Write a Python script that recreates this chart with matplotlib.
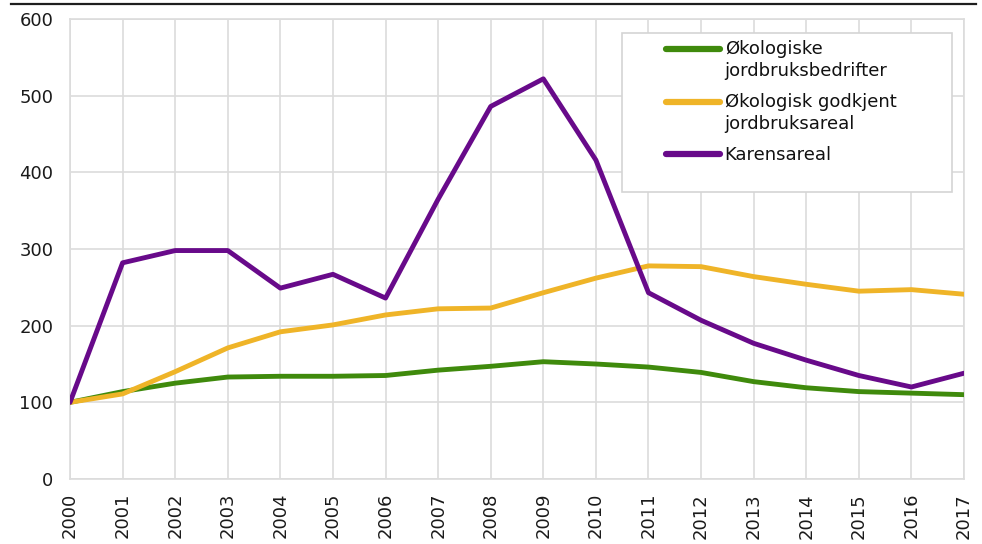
import matplotlib
matplotlib.use('Agg')
import matplotlib.pyplot as plt
from matplotlib.lines import Line2D
from matplotlib.patches import Rectangle
from matplotlib.legend_handler import HandlerLine2D

# index, 2000 = 100
years = [2000, 2001, 2002, 2003, 2004, 2005, 2006, 2007, 2008,
         2009, 2010, 2011, 2012, 2013, 2014, 2015, 2016, 2017]
bedrifter = [100, 114, 125, 133, 134, 134, 135, 142, 147,
             153, 150, 146, 139, 127, 119, 114, 112, 110]
areal = [100, 111, 140, 171, 192, 201, 214, 222, 223,
         243, 262, 278, 277, 264, 254, 245, 247, 241]
karens = [100, 282, 298, 298, 249, 267, 236, 365, 486,
          522, 416, 243, 207, 177, 155, 135, 120, 138]

labels = ['Økologiske\njordbruksbedrifter', 'Økologisk godkjent\njordbruksareal', 'Karensareal']
colors = ['#3f8a0c', '#efb428', '#680a8a']
y_ticks = [0, 100, 200, 300, 400, 500, 600]


class TopLineHandler(HandlerLine2D):
    # put the legend line on the first text line instead of the middle
    def __init__(self, shift=0, **kw):
        HandlerLine2D.__init__(self, **kw)
        self.shift = shift

    def create_artists(self, legend, orig_handle, xdescent, ydescent, width, height, fontsize, trans):
        arts = HandlerLine2D.create_artists(self, legend, orig_handle, xdescent, ydescent,
                                            width, height, fontsize, trans)
        for a in arts:
            a.set_ydata([y + self.shift for y in a.get_ydata()])
        return arts


plt.rcParams['font.family'] = ['DejaVu Sans']
fig = plt.figure(figsize=(9.82, 5.44), dpi=100)
ax = fig.add_axes([0.0713, 0.1195, 0.9104, 0.8455])

lines = []
for vals, col in zip([bedrifter, areal, karens], colors):
    ln, = ax.plot(years, vals, color=col, lw=3.5, solid_joinstyle='round',
                  solid_capstyle='round', zorder=3)
    lines.append(ln)

ax.set_xlim(years[0], years[-1])
ax.set_ylim(0, 600)
ax.set_xticks(years)
ax.set_xticklabels([str(y) for y in years], rotation=90, fontsize=13, color='#1a1a1a')
ax.set_yticks(y_ticks)
ax.set_yticklabels([str(v) for v in y_ticks], fontsize=13, color='#1a1a1a')
ax.tick_params(axis='both', length=0)
ax.tick_params(axis='y', pad=12)
ax.tick_params(axis='x', pad=10)
ax.grid(True, color='#dcdcdc', lw=1.2)
ax.set_axisbelow(True)
for sp in ax.spines.values():
    sp.set_color('#dcdcdc')
    sp.set_linewidth(1.2)

# legend box is much wider than its content, so draw the frame separately
box = Rectangle((0.6174, 0.6239), 0.3692, 0.3457, transform=ax.transAxes,
                facecolor='white', edgecolor='#d4d4d4', lw=1.2, zorder=4)
ax.add_patch(box)
leg = ax.legend(lines, labels, loc='upper left', bbox_to_anchor=(0.6667, 0.9542),
                frameon=False, fontsize=13, borderpad=0, borderaxespad=0,
                handlelength=3.0, handletextpad=0.25, labelspacing=0.7,
                handler_map={lines[0]: TopLineHandler(shift=8.6),
                             lines[1]: TopLineHandler(shift=8.6),
                             lines[2]: TopLineHandler(shift=0)})
leg.set_zorder(5)
for t in leg.get_texts():
    t.set_linespacing(1.31)
    t.set_color('#111111')
for h in leg.get_lines():
    h.set_linewidth(4.5)
    h.set_solid_capstyle('round')

# dark rule across the top of the figure
fig.add_artist(Line2D([11 / 982, 976 / 982], [1 - 3.5 / 544, 1 - 3.5 / 544],
                      transform=fig.transFigure, color='#1e1e1e', lw=1.6))

fig.savefig('out.png', dpi=100)
